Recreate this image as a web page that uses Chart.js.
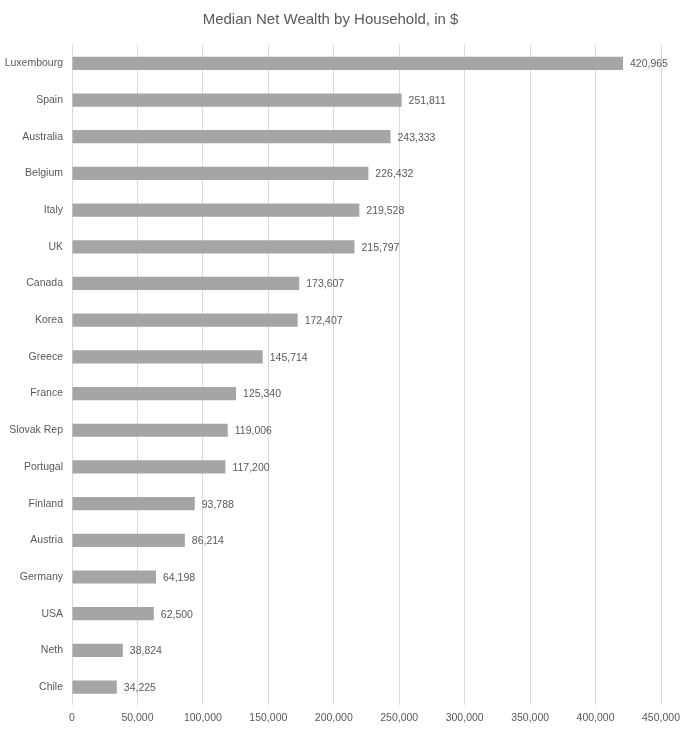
<!DOCTYPE html>
<html>
<head>
<title>Median Net Wealth by Household</title>
<script src="https://cdn.jsdelivr.net/npm/chart.js@4/dist/chart.umd.min.js"></script>
<style>
  html, body { margin: 0; padding: 0; background: #fff; }
  #wrap { width: 693px; height: 734px; }
</style>
</head>
<body>
<div id="wrap"><canvas id="chart"></canvas></div>

<script>
// data
var COUNTRIES = ['Luxembourg', 'Spain', 'Australia', 'Belgium', 'Italy', 'UK', 'Canada', 'Korea',
    'Greece', 'France', 'Slovak Rep', 'Portugal', 'Finland', 'Austria', 'Germany', 'USA', 'Neth', 'Chile'];
var WEALTH = [420965, 251811, 243333, 226432, 219528, 215797, 173607, 172407,
    145714, 125340, 119006, 117200, 93788, 86214, 64198, 62500, 38824, 34225];
var X_MAX = 450000;
var X_STEP = 50000;

var TEXT = '#595959';
var FONT = "'Liberation Sans', 'DejaVu Sans', sans-serif";

// value labels to the right of each bar
var valueLabels = {
    id: 'valueLabels',
    afterDatasetsDraw: function(chart) {
        var ctx = chart.ctx;
        var meta = chart.getDatasetMeta(0);
        ctx.save();
        ctx.font = '10.5px ' + FONT;
        ctx.fillStyle = TEXT;
        ctx.textAlign = 'left';
        ctx.textBaseline = 'middle';
        meta.data.forEach(function(bar, i) {
            ctx.fillText(WEALTH[i].toLocaleString('en-US'), bar.x + 7, bar.y + 1);
        });
        ctx.restore();
    }
};

var ctx = document.getElementById('chart').getContext('2d');
var CHART = new Chart(ctx, {
    type: 'bar',
    data: {
        labels: COUNTRIES,
        datasets: [{
            data: WEALTH,
            backgroundColor: '#a5a5a5',
            categoryPercentage: 1,
            barPercentage: 0.36
        }]
    },
    plugins: [valueLabels],
    options: {
        indexAxis: 'y',
        animation: false,
        responsive: true,
        maintainAspectRatio: false,
        layout: {
            padding: { left: 0, right: 32, top: 8, bottom: 4 }
        },
        plugins: {
            legend: { display: false },
            tooltip: { enabled: false },
            title: {
                display: true,
                text: 'Median Net Wealth by Household, in $',
                color: TEXT,
                font: { family: FONT, size: 15, weight: 'normal' },
                padding: { top: 3, bottom: 16 }
            }
        },
        scales: {
            x: {
                min: 0,
                max: X_MAX,
                ticks: {
                    stepSize: X_STEP,
                    color: TEXT,
                    font: { family: FONT, size: 10.5 },
                    maxRotation: 0,
                    padding: 6,
                    callback: function(v) { return v.toLocaleString('en-US'); }
                },
                grid: { color: '#d9d9d9', drawTicks: false },
                border: { display: false }
            },
            y: {
                afterFit: function(axis) { axis.width = 72; },
                ticks: {
                    color: TEXT,
                    font: { family: FONT, size: 10.5 },
                    padding: 9
                },
                grid: { display: false, drawTicks: false },
                border: { display: false }
            }
        }
    }
});
</script>
</body>
</html>
